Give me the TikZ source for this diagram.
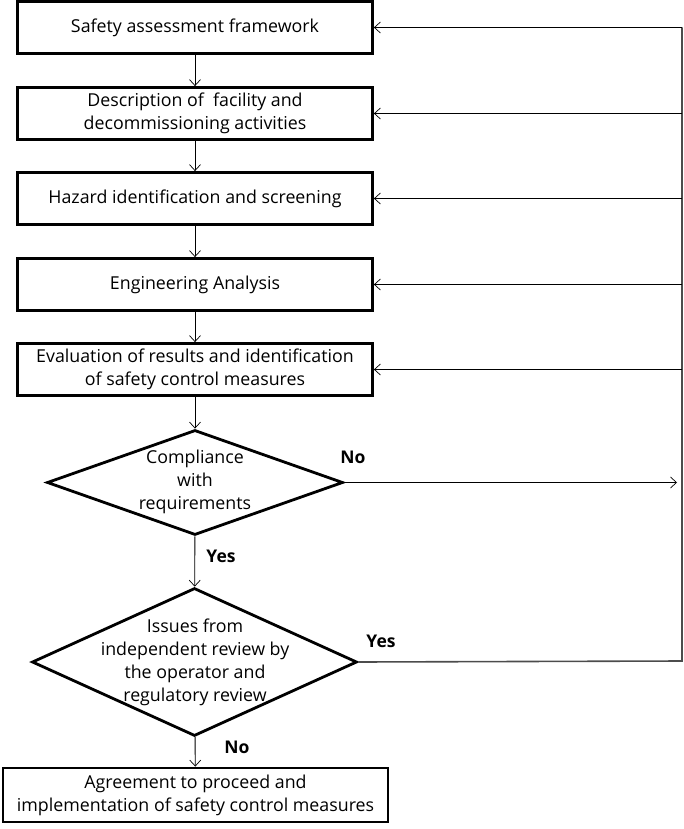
\documentclass[tikz,border=0pt]{standalone}
\usepackage{fontspec}
\setmainfont{Open Sans}
\usetikzlibrary{shapes.geometric,arrows.meta}
\begin{document}
\begin{tikzpicture}[x=1pt,y=-1pt,
  font=\fontsize{17.8}{23}\selectfont,
  stepbox/.style={draw, line width=2.8pt, minimum width=355pt, minimum height=52pt, inner sep=0pt, align=center},
  dia/.style={draw, diamond, line width=2.8pt, inner sep=0pt},
  conn/.style={line width=0.9pt, -{Straight Barb[length=6pt,width=11pt,line width=0.7pt]}},
  lbl/.style={font=\fontsize{17.5}{20}\selectfont\bfseries}]
\useasboundingbox (0,0) rectangle (684,829);
\node[stepbox] (b1) at (195,27.5) {Safety assessment framework};
\node[stepbox] (b2) at (195,113.5) {Description of \ facility and\\decommissioning activities};
\node[stepbox] (b3) at (195,198.5) {Hazard identification and screening};
\node[stepbox] (b4) at (195,284.5) {Engineering Analysis};
\node[stepbox] (b5) at (195,369.5) {Evaluation of results and identification\\of safety control measures};
\node[dia, minimum width=296pt, minimum height=105pt] (d1) at (195,482.5) {};
\node[align=center] (d1t) at (195,482) {Compliance\\with\\requirements};
\node[dia, minimum width=325pt, minimum height=148pt] (d2) at (194.5,662) {};
\node[align=center] (d2t) at (195,662) {Issues from\\independent review by\\the operator and\\regulatory review};
\node[stepbox, minimum width=385pt, minimum height=54pt] (b6) at (195.5,795) {Agreement to proceed and\\implementation of safety control measures};
\coordinate (rtop) at (682,27.5);
\coordinate (rbot) at (682,661);
\coordinate (noend) at (677,482.5);
\draw[conn] (b1) -- (b2);
\draw[conn] (b2) -- (b3);
\draw[conn] (b3) -- (b4);
\draw[conn] (b4) -- (b5);
\draw[conn] (b5) -- (d1);
\draw[conn] (d1) -- (d2);
\draw[conn] (d2) -- (b6);
\draw[conn] (d1.east) -- (noend);
\draw[line width=1.6pt, draw=black!70] (d2.east) -- (rbot) -- (rtop);
\draw[conn] (rtop) -- (b1.east);
\draw[conn] (rtop |- b2.east) -- (b2.east);
\draw[conn] (rtop |- b3.east) -- (b3.east);
\draw[conn] (rtop |- b4.east) -- (b4.east);
\draw[conn] (rtop |- b5.east) -- (b5.east);
\node[lbl] (no1) at (353,457) {No};
\node[lbl] (yes1) at (221,556) {Yes};
\node[lbl] (yes2) at (381,641) {Yes};
\node[lbl] (no2) at (237,747) {No};
\end{tikzpicture}
\end{document}
